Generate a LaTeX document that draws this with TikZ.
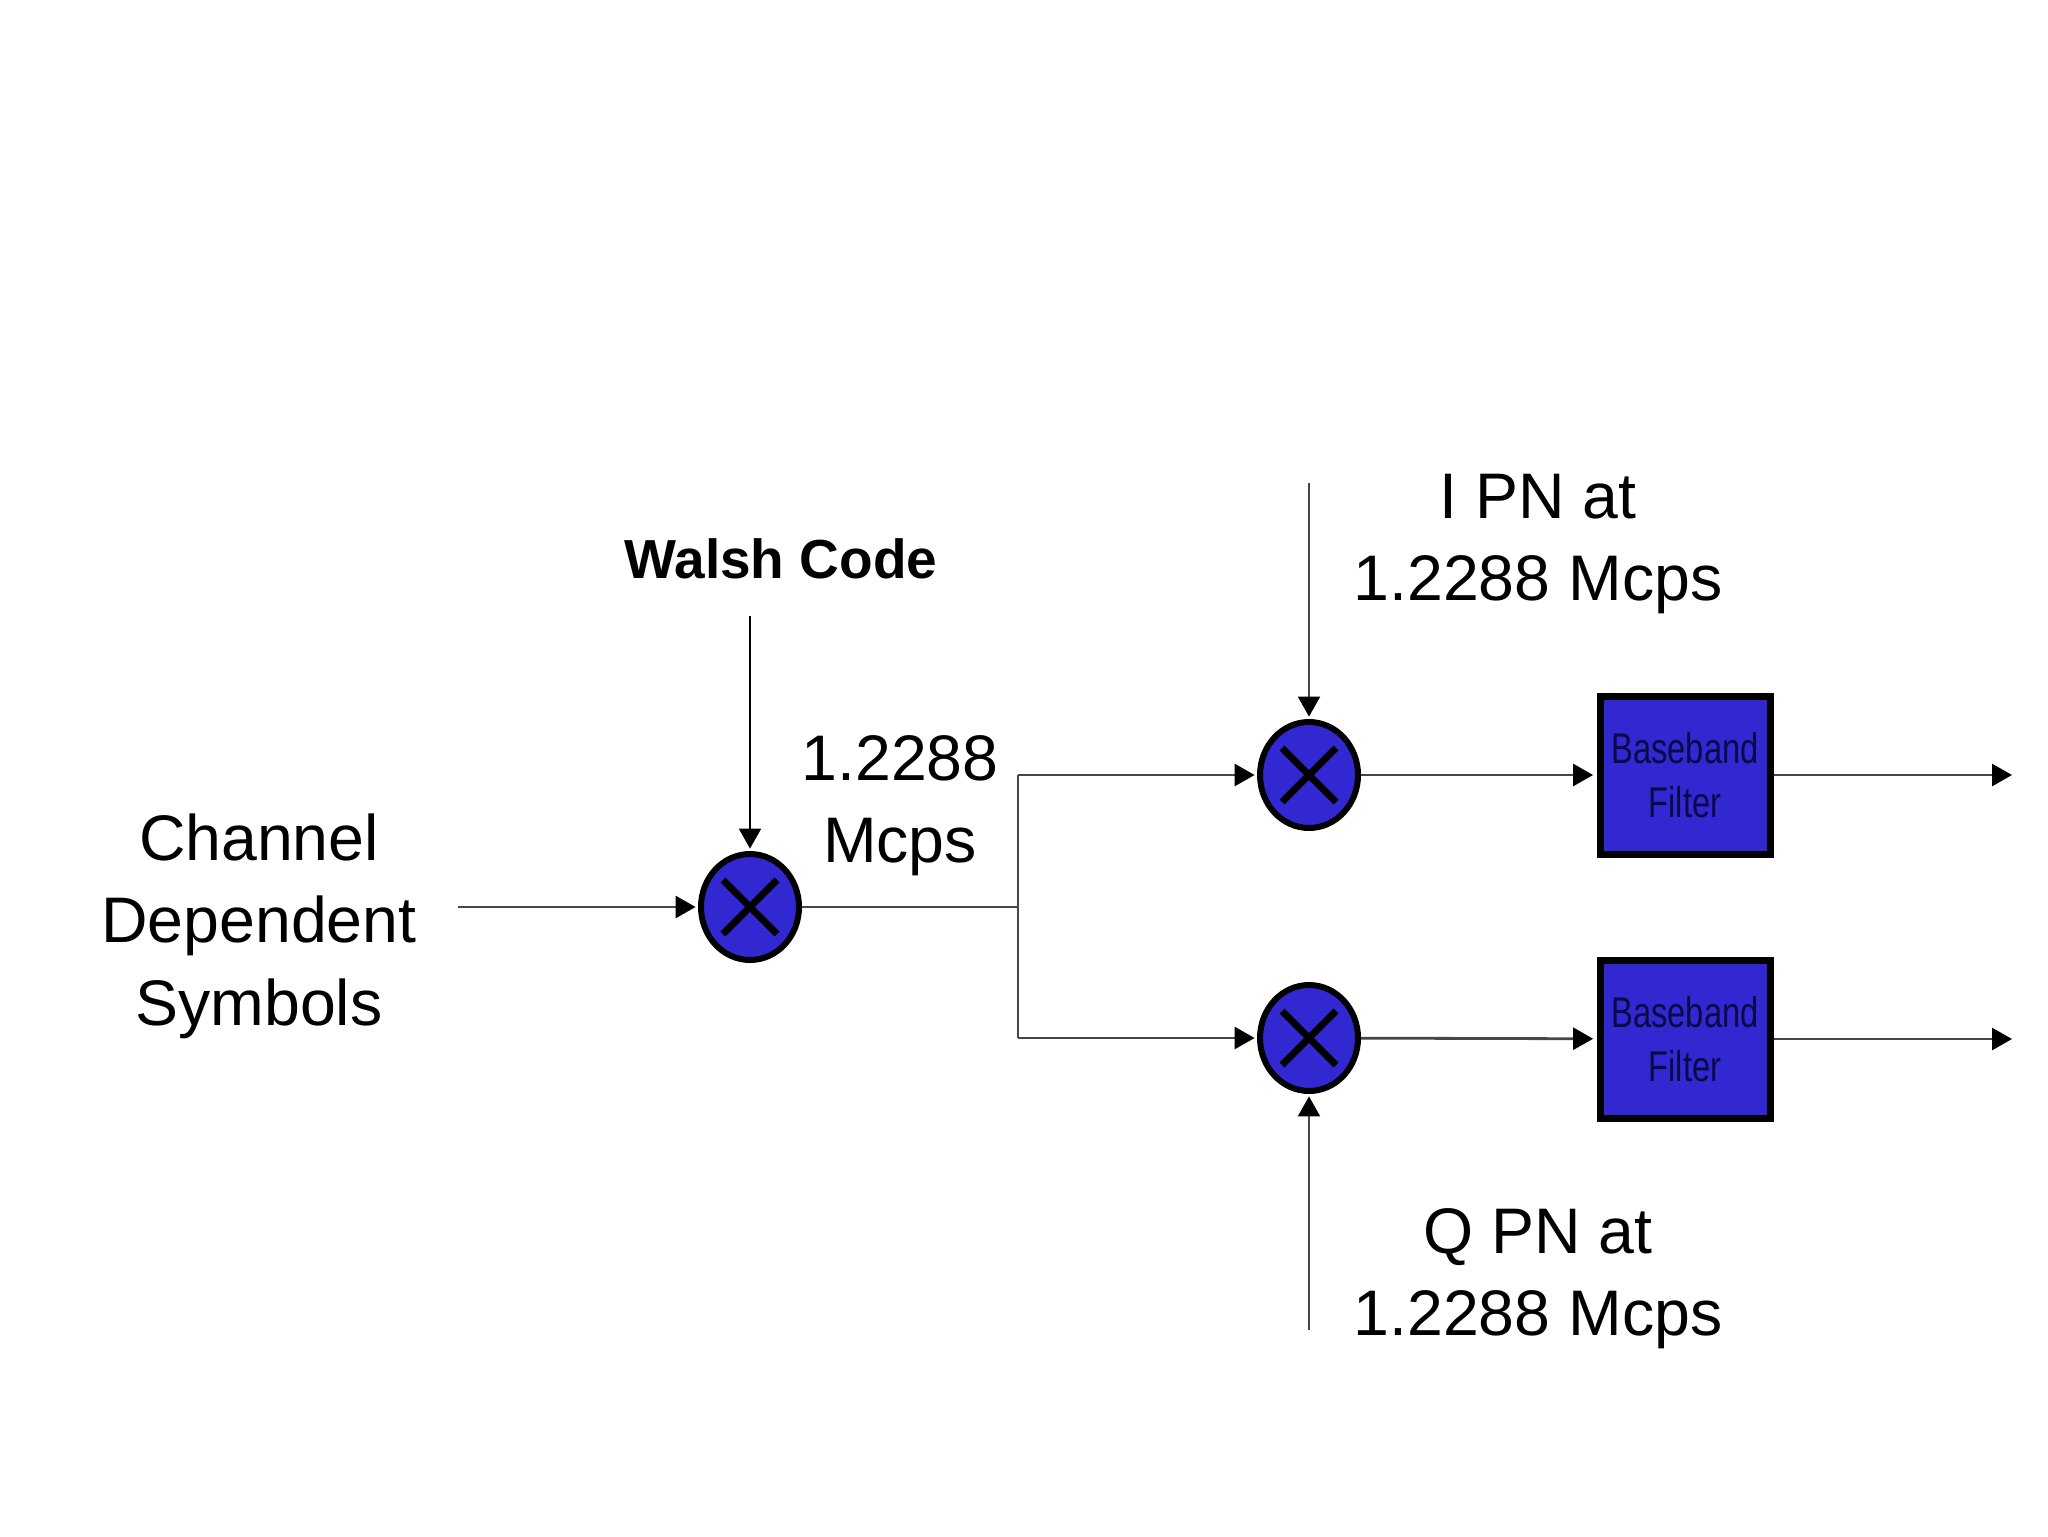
\documentclass[tikz,border=0pt]{standalone}
\usepackage{fontspec}
\setmainfont{Liberation Sans}
\newfontfamily\narrowfont[FakeStretch=0.76]{Liberation Sans}
\usetikzlibrary{arrows.meta,shapes.geometric}
\definecolor{mixblue}{RGB}{50,40,210}
\definecolor{navytext}{RGB}{10,10,70}
\definecolor{wire}{RGB}{70,70,70}
\newcommand{\lblstack}[1]{\begin{tabular}[t]{@{}c@{}}#1\end{tabular}}
\begin{document}
\begin{tikzpicture}[x=0.5pt,y=-0.5pt,
  wireline/.style={draw=wire,line width=1.4pt,-{Triangle[length=10pt,width=11pt,color=black]}},
  vwire/.style={draw=wire,line width=1pt,-{Triangle[length=10pt,width=11pt,color=black]}},
  plainwire/.style={draw=wire,line width=1.4pt},
  tomix/.style={shorten >=1.2pt},
  mixer/.style={ellipse,draw=black,line width=3pt,fill=mixblue,
    minimum width=49pt,minimum height=53pt,inner sep=0pt,
    path picture={
      \draw[black,line width=3.4pt]
        ([xshift=-13.5pt,yshift=-13.5pt]path picture bounding box.center) --
        ([xshift=13.5pt,yshift=13.5pt]path picture bounding box.center);
      \draw[black,line width=3.4pt]
        ([xshift=-13.5pt,yshift=13.5pt]path picture bounding box.center) --
        ([xshift=13.5pt,yshift=-13.5pt]path picture bounding box.center);
    }},
  filterbox/.style={rectangle,draw=black,line width=3.5pt,fill=mixblue,
    minimum width=85pt,minimum height=79pt,inner sep=0pt,align=center,
    text=navytext,font=\narrowfont\fontsize{21.5}{27}\selectfont},
  lbl/.style={inner sep=0pt,anchor=base,text=black,
    font=\fontsize{32.2}{41.25}\selectfont},
  boldlbl/.style={inner sep=0pt,anchor=base,text=black,
    font=\bfseries\fontsize{27.5}{32}\selectfont}
]
\useasboundingbox (0,0) rectangle (2048,1536);
\fill[white] (0,0) rectangle (2048,1536);

% labels
\node[lbl] (chan) at (259,860) {\lblstack{Channel\\Dependent\\Symbols}};
\node[boldlbl] (walsh) at (781,578) {Walsh Code};
\node[lbl] (rate) at (900,780) {\lblstack{1.2288\\Mcps}};
\node[lbl] (ipnl) at (1538,518) {\lblstack{I PN at\\1.2288 Mcps}};
\node[lbl] (qpnl) at (1538,1253) {\lblstack{Q PN at\\1.2288 Mcps}};

% mixers
\node[mixer] (mW) at (750,907) {};
\node[mixer] (mI) at (1309,775) {};
\node[mixer] (mQ) at (1309,1038) {};

% filters
\node[filterbox] (fI) at (1685,775) {Baseband\\Filter};
\node[filterbox] (fQ) at (1685,1039) {Baseband\\Filter};

% coordinates
\coordinate (inp) at (458,907);
\coordinate (wtop) at (750,616);
\coordinate (jn) at (1018,907);
\coordinate (jt) at (1018,775);
\coordinate (jb) at (1018,1038);
\coordinate (ipn) at (1309,483);
\coordinate (qpn) at (1309,1330);
\coordinate (oI) at (2012,775);
\coordinate (oQ) at (2012,1039);

% connectors
\draw[wireline,tomix] (inp) -- (mW);
\draw[vwire,draw=black,tomix] (wtop) -- (mW);
\draw[plainwire] (mW) -- (jn);
\draw[plainwire] (jt) -- (jb);
\draw[wireline,tomix] (jt) -- (mI);
\draw[wireline,tomix] (jb) -- (mQ);
\draw[vwire,tomix] (ipn) -- (mI);
\draw[vwire,tomix] (qpn) -- (mQ);
\draw[wireline,shorten >=1.7pt] (mI) -- (fI);
\draw[wireline,shorten >=1.7pt] (mQ) -- (fQ);
\draw[wireline] (fI) -- (oI);
\draw[wireline] (fQ) -- (oQ);
\end{tikzpicture}
\end{document}
